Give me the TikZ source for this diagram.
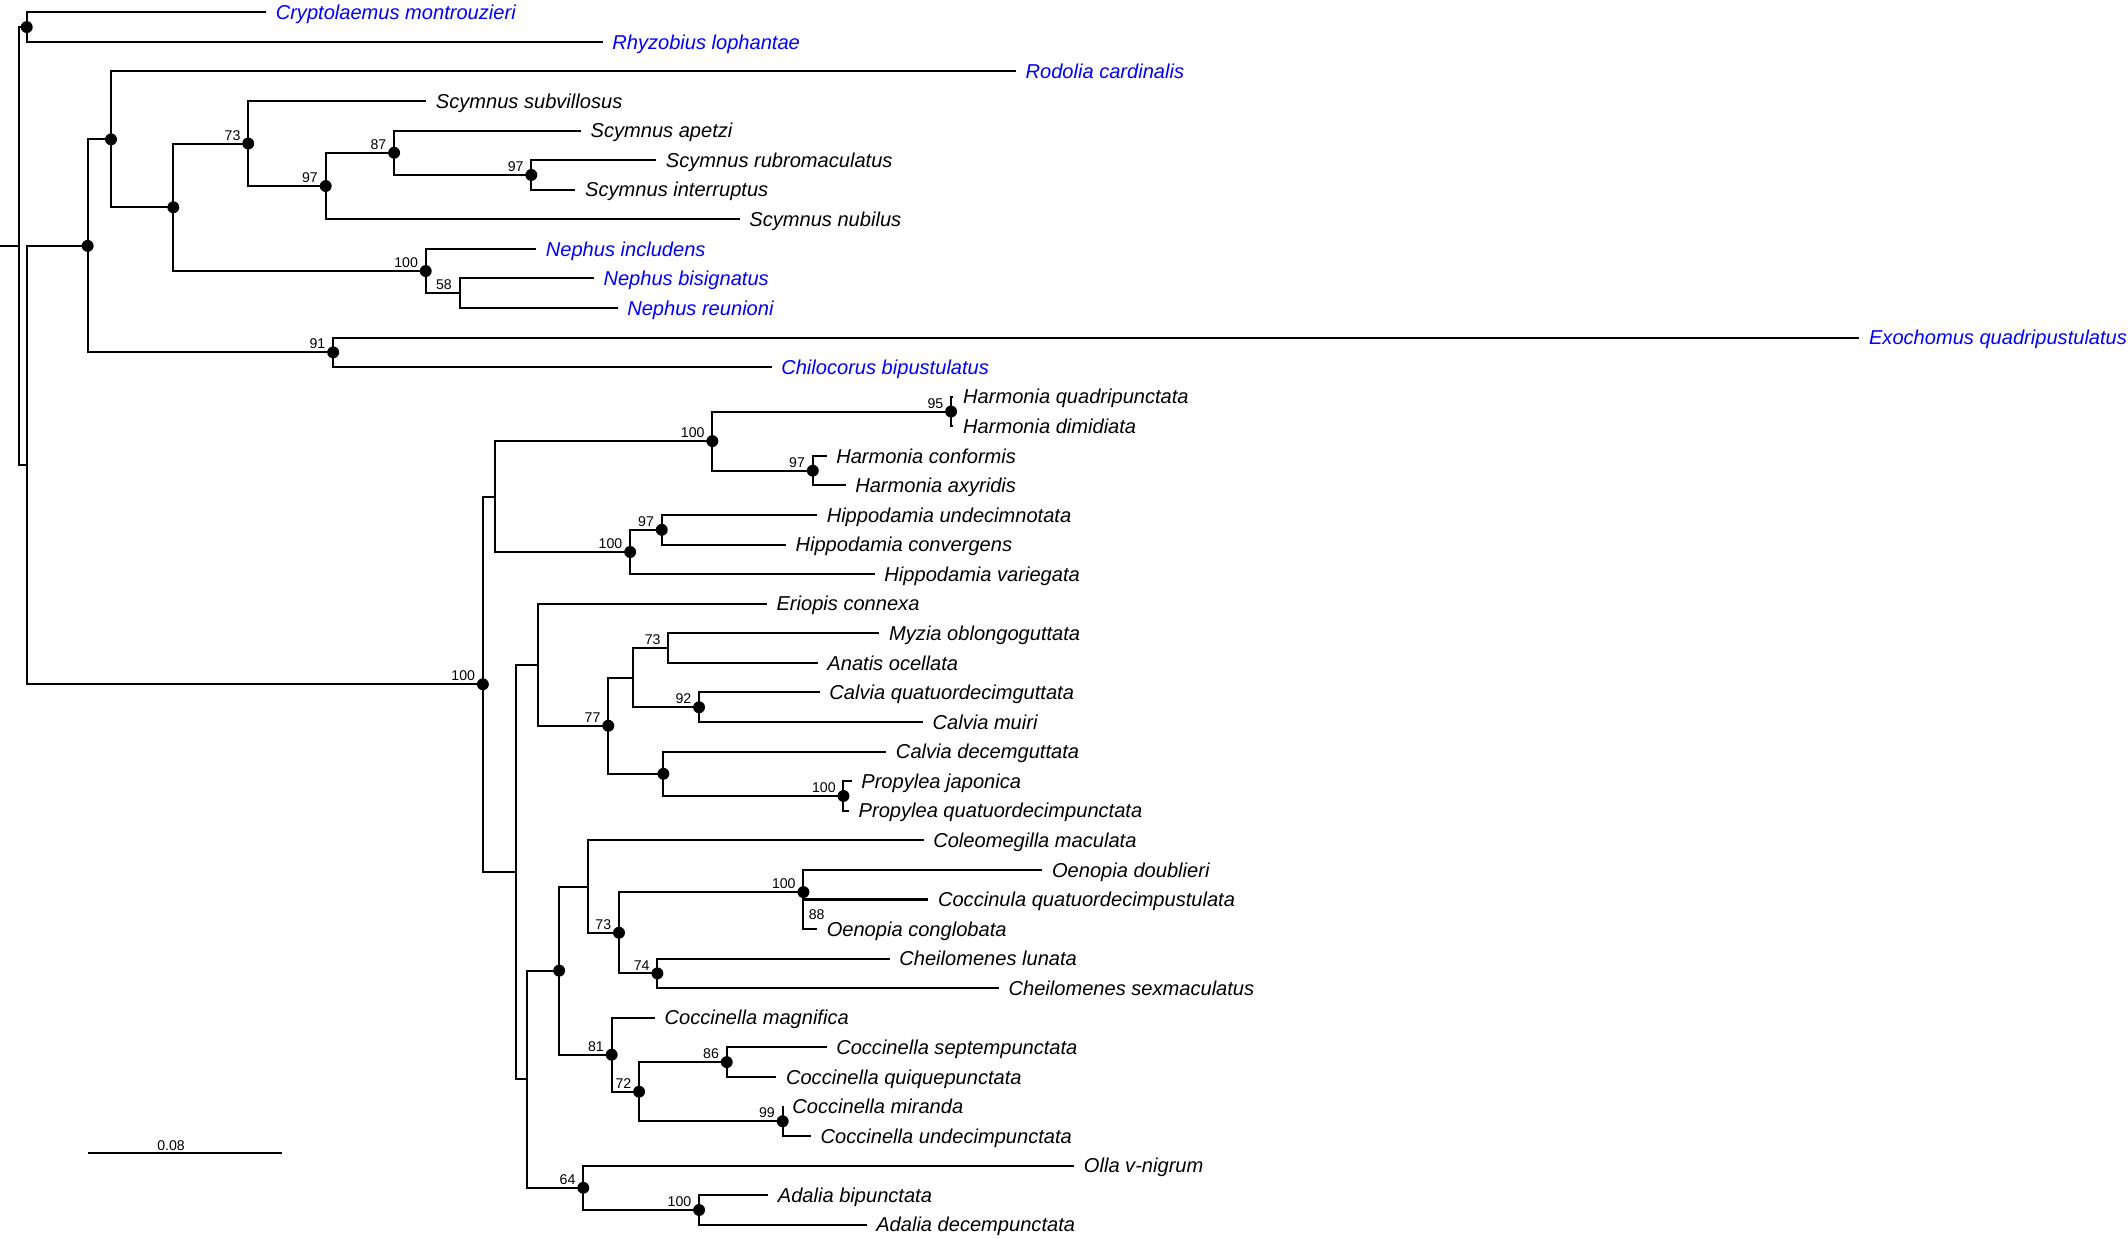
\documentclass[tikz,border=0pt]{standalone}
\usepackage{fontspec}
\setmainfont{Liberation Sans}
\usetikzlibrary{positioning}
\usetikzlibrary{calc}

\tikzset{
  branch/.style={line width=0.75pt, black},
  taxon/.style={inner sep=0pt, text height=5.3pt, text depth=0pt,
    font=\fontsize{7.4}{8}\selectfont\itshape},
  bs/.style={inner sep=0pt, font=\fontsize{5.2}{6}\selectfont},
}

% clade: name, x, first child, second child
\newcommand{\clade}[4]{%
  \path let \p1=(#3), \p2=(#4), \p3=(#2,0) in coordinate (#1) at (\x3,{(\y1+\y2)/2});
  \draw[branch] (#1) |- (#3) (#1) |- (#4);
}

\begin{document}
\begin{tikzpicture}[x=0.5pt, y=-0.5pt]
\useasboundingbox (0,0) rectangle (1568,912.3);

% tips
\def\gap{3.4pt}
\foreach \k/\len/\tname/\col in {
  1/196/Cryptolaemus montrouzieri/blue,
  2/444/Rhyzobius lophantae/blue,
  3/748.5/Rodolia cardinalis/blue,
  4/314/Scymnus subvillosus/black,
  5/428/Scymnus apetzi/black,
  6/483.5/Scymnus rubromaculatus/black,
  7/424/Scymnus interruptus/black,
  8/545/Scymnus nubilus/black,
  9/395/Nephus includens/blue,
  10/437.5/Nephus bisignatus/blue,
  11/455/Nephus reunioni/blue,
  12/1370/Exochomus quadripustulatus/blue,
  13/568.5/Chilocorus bipustulatus/blue,
  14/702.5/Harmonia quadripunctata/black,
  15/702.5/Harmonia dimidiata/black,
  16/609/Harmonia conformis/black,
  17/623/Harmonia axyridis/black,
  18/602/Hippodamia undecimnotata/black,
  19/579/Hippodamia convergens/black,
  20/644.5/Hippodamia variegata/black,
  21/565/Eriopis connexa/black,
  22/648/Myzia oblongoguttata/black,
  23/602.5/Anatis ocellata/black,
  24/604/Calvia quatuordecimguttata/black,
  25/680/Calvia muiri/black,
  26/653/Calvia decemguttata/black,
  27/627.5/Propylea japonica/black,
  28/625.5/Propylea quatuordecimpunctata/black,
  29/680.5/Coleomegilla maculata/black,
  30/768/Oenopia doublieri/black,
  31/684/Coccinula quatuordecimpustulata/black,
  32/602/Oenopia conglobata/black,
  33/655.5/Cheilomenes lunata/black,
  34/736/Cheilomenes sexmaculatus/black,
  35/482.5/Coccinella magnifica/black,
  36/609/Coccinella septempunctata/black,
  37/572/Coccinella quiquepunctata/black,
  38/576.7/Coccinella miranda/black,
  39/597.5/Coccinella undecimpunctata/black,
  40/791.5/Olla v-nigrum/black,
  41/566/Adalia bipunctata/black,
  42/638.5/Adalia decempunctata/black}
{
  \coordinate (t\k) at (\len,{9.06+21.79*(\k-1)});
  \node[taxon, text=\col, right=\gap of t\k] (n\k) {\tname};
}

% lower clades
\clade{oen88}{592}{t31}{t32}
\clade{oen100}{592}{t30}{oen88}
\clade{che74}{484.4}{t33}{t34}
\clade{oen73}{456.1}{oen100}{che74}
\clade{cole}{433.6}{t29}{oen73}
\clade{cocc86}{535.5}{t36}{t37}
\clade{cocc99}{576.7}{t38}{t39}
\clade{cocc72}{470.9}{cocc86}{cocc99}
\clade{cocc81}{450.7}{t35}{cocc72}
\clade{coccin}{412}{cole}{cocc81}
\clade{ada100}{515.1}{t41}{t42}
\clade{ada64}{429.8}{t40}{ada100}
\clade{aphid}{388.2}{coccin}{ada64}
\clade{pro100}{621.5}{t27}{t28}
\clade{calpro}{488.8}{t26}{pro100}
\clade{cal92}{515.1}{t24}{t25}
\clade{myz73}{492.5}{t22}{t23}
\clade{myzcal}{466.2}{myz73}{cal92}
\clade{eri77}{448.2}{myzcal}{calpro}
\clade{eri}{396.4}{t21}{eri77}
\clade{lower}{380.3}{eri}{aphid}
\clade{hip97}{487.6}{t18}{t19}
\clade{hip100}{464.3}{hip97}{t20}
\clade{har95}{700.8}{t14}{t15}
\clade{har97}{598.9}{t16}{t17}
\clade{har100}{524.9}{har95}{har97}
\clade{harhip}{364.6}{har100}{hip100}
\clade{cocc100}{355.8}{harhip}{lower}

% upper clades
\clade{neph58}{338.7}{t10}{t11}
\clade{neph100}{313.7}{t9}{neph58}
\clade{scy97b}{391.5}{t6}{t7}
\clade{scy87}{290.4}{t5}{scy97b}
\clade{scy97}{240}{scy87}{t8}
\clade{scy73}{182.9}{t4}{scy97}
\clade{scyneph}{127.7}{scy73}{neph100}
\clade{rod}{81.8}{t3}{scyneph}
\clade{exo91}{245.5}{t12}{t13}
\clade{upper}{64.6}{rod}{exo91}
\clade{rest}{19.7}{upper}{cocc100}
\clade{cry}{19.7}{t1}{t2}
\clade{root}{14.2}{cry}{rest}

% root stem
\coordinate (stem) at (root -| 0,0);
\draw[branch] (stem) -- (root);

%dots
\foreach \c in {cry,upper,rod,scyneph,scy73,scy97,scy87,scy97b,neph100,exo91,
  cocc100,har100,har95,har97,hip100,hip97,eri77,cal92,calpro,pro100,
  coccin,oen73,oen100,che74,cocc81,cocc72,cocc86,cocc99,ada64,ada100}
  \fill (\c) circle (2.2pt);

% support values
\foreach \c/\v in {scy73/73,scy97/97,scy87/87,scy97b/97,neph100/100,neph58/58,
  exo91/91,cocc100/100,har100/100,har95/95,har97/97,hip100/100,hip97/97,
  eri77/77,myz73/73,cal92/92,pro100/100,oen100/100,oen73/73,che74/74,
  cocc81/81,cocc72/72,cocc86/86,cocc99/99,ada64/64,ada100/100}
  \node[bs, above left=1pt and 2.7pt of \c] (s-\c) {\v};
\node[bs, right=1.8pt of oen88] (s-oen88) {88};

% scale bar
\coordinate (sb0) at (64.6,849.9);
\coordinate (sb1) at (207.6,849.9);
\draw[branch] (sb0) -- (sb1);
\node[bs, anchor=south] (sbl) at (126,848) {0.08};

\end{tikzpicture}
\end{document}
